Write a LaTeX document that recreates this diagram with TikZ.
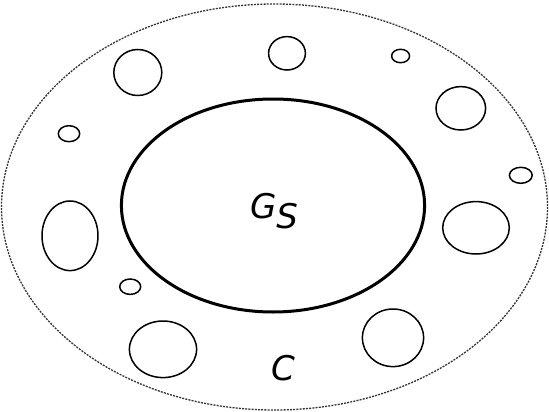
\documentclass[tikz,border=0pt]{standalone}
\usepackage{fontspec}
\setmainfont{DejaVu Sans}
\usepackage{tikz}

\begin{document}
\begin{tikzpicture}[x=1pt, y=-1pt,
    hole/.style={line width=1.5pt},
    lbl/.style={font=\fontsize{34}{36}\selectfont\itshape, inner sep=0pt}]
    \useasboundingbox (0,0) rectangle (549,412);
    % outer region C
    \draw[line width=1.3pt, dash pattern=on 2pt off 1.2pt, black!80] (274.5,207) ellipse [x radius=273, y radius=203];
    % core G_S
    \draw[line width=3pt] (273,205.5) ellipse [x radius=151.6, y radius=106.5];
    % small components
    \foreach \cx/\cy/\rx/\ry in {137.8/72.5/24/23, 287/53.3/18.4/16.7, 400.6/56/9/6.7,
        460.8/108.3/24.8/21.7, 69/133.7/10.7/8, 520.8/175.3/11.4/8, 70/235.8/28/34.8,
        476/227.8/33.3/26.2, 130.2/286.7/10.5/7.7, 163/349.3/33.6/28.3, 393/337.8/30.6/28.8}
        \draw[hole] (\cx,\cy) ellipse [x radius=\rx, y radius=\ry];
    \node[lbl] (gs) at (274,211) {G\raisebox{-0.28em}{S}};
    \node[lbl] (c) at (283,368) {C};
\end{tikzpicture}
\end{document}
